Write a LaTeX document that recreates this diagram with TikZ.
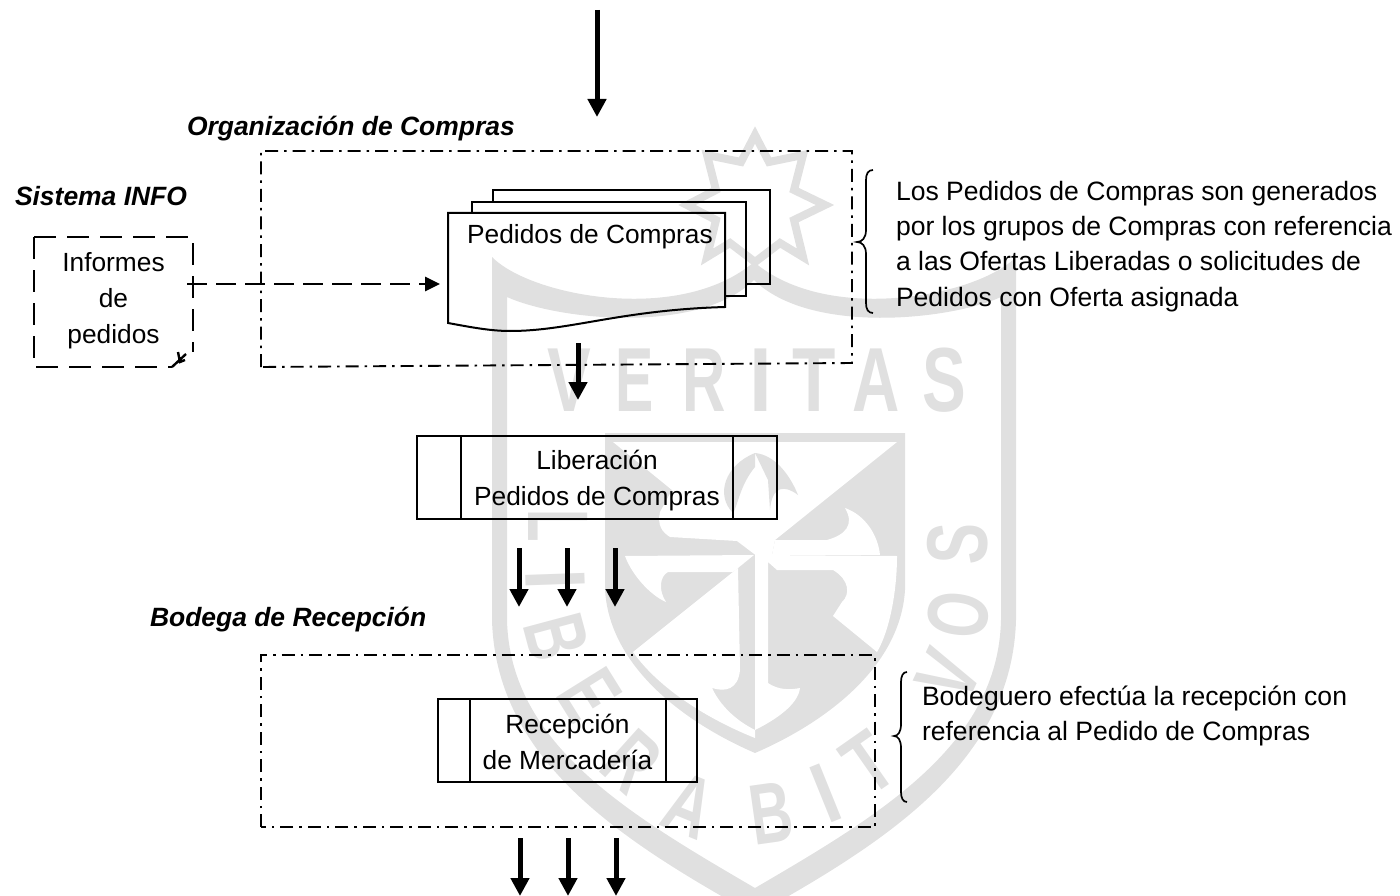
\documentclass[tikz,border=0pt]{standalone}
\usepackage{fontspec}
\setmainfont{Liberation Sans}
\usetikzlibrary{arrows.meta}
\definecolor{wmgray}{RGB}{224,224,224}
\newcommand{\wmch}[2]{\scalebox{#1}[1]{#2}}
\tikzset{
  x=1pt,y=-1pt,
  wmletter/.style={text=wmgray,inner sep=0pt,outer sep=0pt,font=\fontsize{91}{91}\selectfont\bfseries},
  wmsmall/.style={text=wmgray,inner sep=0pt,outer sep=0pt,font=\fontsize{86}{86}\selectfont\bfseries},
  wmfill/.style={fill=wmgray,draw=none},
  wmwhite/.style={fill=white,draw=none},
  label/.style={inner sep=0pt,outer sep=0pt,font=\fontsize{26.3}{36}\selectfont,align=center},
  title/.style={inner sep=0pt,outer sep=0pt,anchor=west,font=\fontsize{26.45}{36}\selectfont\bfseries\itshape},
  note/.style={inner sep=0pt,outer sep=0pt,anchor=north west,align=left,font=\fontsize{26.55}{35.3}\selectfont},
  framebox/.style={line width=1.9pt,dash pattern=on 13pt off 6pt on 2.5pt off 6pt},
  procbox/.style={draw,line width=2.3pt,inner sep=0pt,outer sep=0pt},
  proctext/.style={inner sep=0pt,outer sep=0pt,font=\fontsize{26.3}{36}\selectfont,align=center},
  docline/.style={line width=2pt},
  brace/.style={line width=1.7pt},
  bigarrow/.style={line width=5pt,-{Triangle[length=18pt,width=18pt]}},
  dasharrow/.style={line width=2.7pt,dash pattern=on 20pt off 9pt,-{Triangle[length=15pt,width=14pt]}},
  infoline/.style={line width=2.7pt,dash pattern=on 22pt off 11pt},
}
\begin{document}
\begin{tikzpicture}
\useasboundingbox (0,0) rectangle (1400,896);
% ---------- watermark ----------
\draw[wmgray,line width=8pt,line join=miter] (755,135) -- (769,162) -- (803,155) -- (794,190) -- (825,205) -- (794,220) -- (803,257) -- (780,243) -- (755,262) -- (730,243) -- (707,257) -- (716,220) -- (687,205) -- (716,190) -- (707,155) -- (741,162) -- cycle;
\fill[white] (492,257) .. controls (540,300) and (680,320) .. (742,267) -- (766,267) .. controls (830,320) and (970,300) .. (1016,257) -- (1016,420) -- (492,420) -- cycle;
\path[wmfill,even odd rule]
  (492,257) .. controls (530,296) and (680,325) .. (754,262) .. controls (828,325) and (978,296) .. (1016,257)
  -- (1016,620) .. controls (1012,760) and (890,840) .. (755,915) .. controls (620,840) and (496,760) .. (492,620) -- cycle
  (507,297) -- (507,620) .. controls (510,745) and (630,815) .. (755,888) .. controls (880,815) and (998,745) .. (1001,620) -- (1001,297) .. controls (950,320) and (810,335) .. (754,280) .. controls (698,335) and (558,320) .. (507,297) -- cycle;
% shield core
\path[wmfill] (605,433) -- (905,433) -- (905,590) .. controls (900,670) and (820,725) .. (755,753) .. controls (690,725) and (610,670) .. (605,590) -- cycle;
% upper left white
\path[wmwhite] (613,442) -- (755.5,442) -- (755.5,555) -- (737,541) -- (670,537) .. controls (662,532) and (657,525) .. (660,512) -- (672,490) -- cycle;
% upper right white with strip
\path[wmwhite] (755,442) -- (897,442) -- (775,540) -- (772,555) -- (755,555) -- cycle;
\path[wmwhite] (845,508) .. controls (865,515) and (878,535) .. (880,555) -- (772,555) -- (775,540) -- (827,540) .. controls (845,535) and (855,525) .. (845,508) -- cycle;
% left arm below the centre line
\path[wmwhite] (625,556) -- (754,555) -- (733,572) -- (668,572) .. controls (660,576) and (658,590) .. (666,602) .. controls (650,595) and (632,575) .. (625,556) -- cycle;
% lower left white with fluke
\path[wmwhite] (738,568) -- (633,652) .. controls (660,690) and (710,720) .. (755,738) -- (755,730) .. controls (735,720) and (720,705) .. (712,688) .. controls (725,692) and (738,690) .. (740,670) -- cycle;
% lower right white with strip and fluke
\path[wmwhite] (755,555) -- (897,556) .. controls (897,590) and (890,630) .. (877,652) -- (833,616) -- (842,602) .. controls (850,595) and (850,580) .. (833,570) -- (777,570) -- (768,562) -- (768,683) .. controls (778,690) and (790,690) .. (800,688) .. controls (798,705) and (775,720) .. (755,730) -- cycle;
% top fleur lobes
\path[wmfill] (755,453) .. controls (725,465) and (715,495) .. (733,513) .. controls (738,505) and (740,485) .. (755,467) -- cycle;
\path[wmfill] (755,453) .. controls (775,455) and (790,475) .. (798,495) .. controls (785,485) and (772,485) .. (770,510) -- (768,480) -- cycle;
% VERITAS
\node[wmletter] (wmV) at (569,380) {\wmch{.72}{V}};
\node[wmletter] (wmE) at (635,380) {\wmch{.63}{E}};
\node[wmletter] (wmR) at (704,380) {\wmch{.66}{R}};
\node[wmletter] (wmI) at (761,380) {\wmch{.9}{I}};
\node[wmletter] (wmT) at (814,380) {\wmch{.78}{T}};
\node[wmletter] (wmA) at (876,380) {\wmch{.72}{A}};
\node[wmletter] (wmS) at (944,380) {\wmch{.72}{S}};
% LIBERABIT VOS
\node[wmsmall,rotate=-90] (wmLa) at (558,526) {\wmch{.62}{L}};
\node[wmsmall,rotate=-88] (wmLb) at (555,580) {\wmch{.85}{I}};
\node[wmsmall,rotate=-75] (wmLc) at (557,637) {\wmch{.68}{B}};
\node[wmsmall,rotate=-58] (wmLd) at (590,695) {\wmch{.66}{E}};
\node[wmsmall,rotate=-42] (wmLe) at (632,762) {\wmch{.68}{R}};
\node[wmsmall,rotate=-22] (wmLf) at (689,805) {\wmch{.72}{A}};
\node[wmsmall,rotate=8] (wmLg) at (771,813) {\wmch{.68}{B}};
\node[wmsmall,rotate=22] (wmLh) at (826,793) {\wmch{.85}{I}};
\node[wmsmall,rotate=35] (wmLi) at (869,763) {\wmch{.75}{T}};
\node[wmsmall,rotate=65] (wmLj) at (948,675) {\wmch{.72}{V}};
\node[wmsmall,rotate=82] (wmLk) at (958,615) {\wmch{.68}{O}};
\node[wmsmall,rotate=88] (wmLl) at (958,544) {\wmch{.72}{S}};
% ---------- frames ----------
\draw[framebox] (261,367) -- (261,151) -- (852,151) -- (852,363) -- cycle;
\draw[framebox] (261,827) -- (261,655) -- (875,655) -- (875,827) -- cycle;
% ---------- titles ----------
\node[title] (torg) at (187,129) {Organización de Compras};
\node[title] (tsis) at (15,196) {Sistema INFO};
\node[title] (tbod) at (150,620) {Bodega de Recepción};
% ---------- Informes ----------
\node[label,minimum width=159pt,minimum height=130pt] (inf) at (113.5,300.5) {Informes\\de\\pedidos};
\coordinate (infcut) at (172,367);
\coordinate (infSW) at (34,367);
\coordinate (infNW) at (34,237);
\coordinate (infNE) at (193,237);
\coordinate (infcut2) at (193,352);
\draw[infoline] (infNW) -- (infSW) -- (infcut);
\draw[infoline] (infNW) -- (infNE) -- (infcut2);
\draw[line width=2.4pt] (infcut) -- (186,354) (178,352) -- (180,362) -- (185,360);
% ---------- Pedidos stack ----------
\coordinate (pedNW) at (448,213);
\coordinate (pedNE) at (725,213);
\coordinate (dstart) at (187,284);
\coordinate (dend) at (440,284);
\draw[docline] (493,202) -- (493,190) -- (770,190) -- (770,284) -- (746,284);
\draw[docline] (472,213) -- (472,202) -- (746,202) -- (746,296) -- (725,296);
\draw[docline] (pedNE) -- (pedNW) -- (448,323) .. controls (470,327) and (490,331) .. (510,331) .. controls (570,331) and (620,310) .. (725,307) -- cycle;
\node[label] (pedt) at (590,237) {Pedidos de Compras};
\draw[dasharrow] (dstart) -- (dend);
% ---------- Liberacion ----------
\node[procbox,minimum width=360pt,minimum height=83pt] (lib) at (597,477.5) {};
\node[proctext] (libt) at (597,481) {Liberación\\Pedidos de Compras};
\draw[line width=2.3pt] (461,436) -- (461,519) (733,436) -- (733,519);
% ---------- Recepcion ----------
\node[procbox,minimum width=259pt,minimum height=83pt] (rec) at (567.5,740.5) {};
\node[proctext] (rect) at (567.5,741.5) {Recepción\\de Mercadería};
\draw[line width=2.3pt] (470,699) -- (470,782) (666,699) -- (666,782);
% ---------- notes ----------
\node[note] (n1) at (896,181) {Los Pedidos de Compras son generados\\por los grupos de Compras con referencia\\a las Ofertas Liberadas o solicitudes de\\Pedidos con Oferta asignada};
\node[note] (n2) at (922,685.5) {Bodeguero efectúa la recepción con\\referencia al Pedido de Compras};
\draw[brace] (873,170) .. controls (868,170) and (866,174) .. (866,180) -- (866,230) .. controls (866,238) and (862,242) .. (857,242) .. controls (862,242) and (866,246) .. (866,254) -- (866,303) .. controls (866,309) and (868,313) .. (873,313);
\draw[brace] (907,672) .. controls (903,672) and (901,676) .. (901,682) -- (901,724) .. controls (901,732) and (898,736) .. (894,736) .. controls (898,736) and (901,740) .. (901,748) -- (901,792) .. controls (901,798) and (903,802) .. (907,802);
% ---------- arrows ----------
\coordinate (a0s) at (597,10); \coordinate (a0e) at (597,117);
\coordinate (a1s) at (578,343); \coordinate (a1e) at (578,400);
\draw[bigarrow] (a0s) -- (a0e);
\draw[bigarrow] (a1s) -- (a1e);
\foreach \i/\xx in {1/519,2/567,3/615}{
  \coordinate (u\i) at (\xx,548); \coordinate (v\i) at (\xx,607);
  \draw[bigarrow] (u\i) -- (v\i);
  \coordinate (p\i) at (\xx+1,838); \coordinate (q\i) at (\xx+1,896);
  \draw[bigarrow] (p\i) -- (q\i);
}
\end{tikzpicture}
\end{document}
